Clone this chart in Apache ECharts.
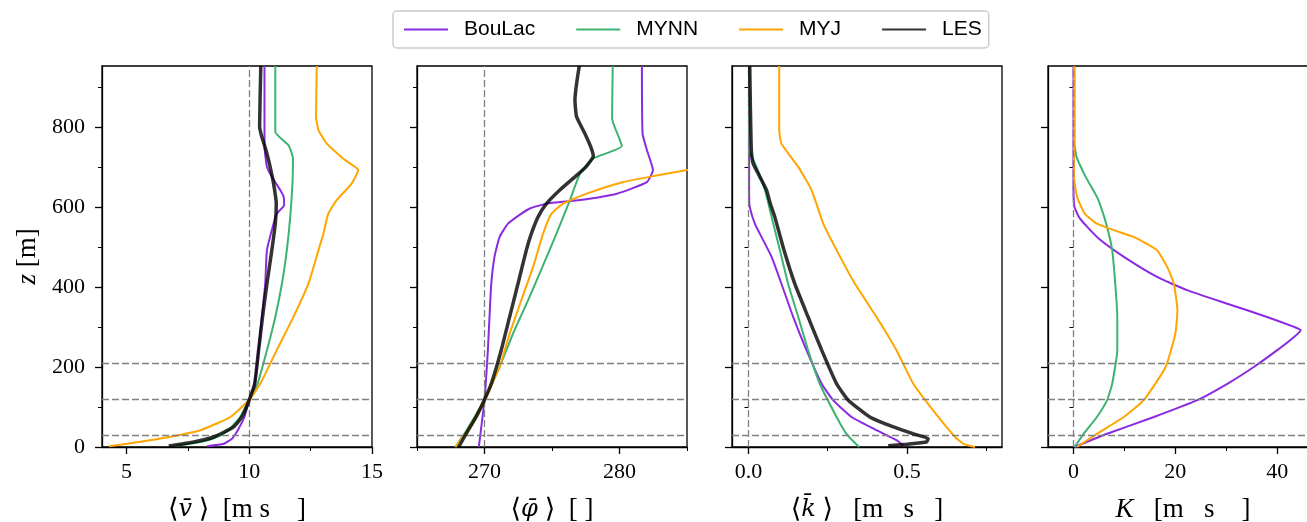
<!DOCTYPE html>
<html><head><meta charset="utf-8">
<script src="https://cdn.jsdelivr.net/npm/echarts@6/dist/echarts.min.js"></script>
<style>html,body{margin:0;padding:0;background:#fff}#c{width:1307px;height:522px}</style>
</head><body><div id="c"></div>
<script>
// ---------- data (value, height z [m]) ----------
const models = ['BouLac', 'MYNN', 'MYJ', 'LES'];

// panel 1: mean wind speed
const velBouLac = [[8.28,2],[8.96,8],[9.30,21],[9.53,42],[9.80,75],[10.0,118],[10.22,158],[10.38,242],[10.51,325],[10.65,408],[10.72,492],[10.99,558],[11.12,583],[11.42,604],[11.40,625],[11.26,642],[10.92,675],[10.72,700],[10.62,750],[10.62,800],[10.62,952]];
const velMYNN = [[6.9,2.5],[8.0,12.5],[8.69,25],[9.16,42],[9.63,75],[10.0,118],[10.34,158],[10.72,242],[11.06,325],[11.33,408],[11.53,492],[11.67,575],[11.76,658],[11.78,721],[11.60,754],[11.06,787],[11.06,952]];
const velMYJ = [[4.28,2],[5.03,8],[6.38,21],[8.01,42],[9.23,75],[10.0,118],[10.45,158],[11.12,242],[11.80,325],[12.41,408],[12.82,492],[13.02,533],[13.22,583],[13.56,617],[14.17,658],[14.44,692],[13.90,717],[13.16,758],[12.82,792],[12.72,825],[12.75,952]];
const velLES = [[6.72,2.5],[7.74,12.5],[8.55,25],[9.36,50],[9.70,75],[10.0,118],[10.22,158],[10.38,242],[10.54,325],[10.72,408],[10.92,492],[11.06,558],[11.10,608],[10.99,658],[10.85,700],[10.68,742],[10.51,775],[10.42,800],[10.47,952]];

// panel 2: wind direction
const dirBouLac = [[269.58,0],[270,118],[270.25,242],[270.37,325],[270.50,408],[270.74,475],[271.12,525],[271.74,558],[272.73,583],[273.35,596],[274.59,608],[277.07,617],[279.80,633],[282.03,662],[282.48,692],[282.03,742],[281.71,783],[281.66,952]];
const dirMYNN = [[267.84,0],[268.51,33],[269.26,75],[270,118],[271.12,200],[272.11,283],[273.23,367],[274.29,450],[275.33,533],[276.33,617],[277.07,683],[278.06,721],[280.17,752],[279.45,821],[279.50,952]];
const dirMYJ = [[267.84,0],[268.59,33],[269.38,75],[270,118],[271.12,200],[271.86,283],[272.73,367],[273.60,450],[274.34,533],[274.96,583],[275.83,608],[277.57,633],[280.30,662],[282.53,677],[285.01,692],[285.6,695]];
const dirLES = [[268.09,0],[268.64,33],[269.38,75],[270,118],[270.50,158],[271.24,242],[271.86,325],[272.48,408],[273.10,492],[273.47,533],[273.97,575],[274.59,608],[275.58,642],[276.70,675],[277.52,700],[278.06,727],[277.87,750],[277.44,783],[276.82,825],[276.70,867],[276.82,908],[277.02,952]];

// panel 3: TKE
const tkeBouLac = [[0.488,4],[0.467,17],[0.404,42],[0.325,75],[0.267,117],[0.231,158],[0.183,242],[0.141,325],[0.104,408],[0.073,475],[0.041,525],[0.02,558],[0.004,600],[0.002,625],[0.002,952]];
const tkeMYNN = [[0.349,0],[0.309,33],[0.278,75],[0.225,158],[0.188,242],[0.157,325],[0.125,408],[0.099,492],[0.073,575],[0.052,642],[0.025,700],[0.004,742],[0.002,952]];
const tkeMYJ = [[0.715,0],[0.678,8],[0.652,25],[0.599,75],[0.520,158],[0.467,242],[0.404,325],[0.336,408],[0.278,492],[0.236,558],[0.199,642],[0.157,700],[0.104,758],[0.097,792],[0.097,952]];
const tkeLES = [[0.441,3],[0.499,7],[0.562,12.5],[0.567,21],[0.520,33],[0.457,50],[0.383,75],[0.315,117],[0.278,158],[0.231,242],[0.188,325],[0.146,408],[0.112,492],[0.083,575],[0.069,608],[0.057,642],[0.036,675],[0.015,708],[0.009,742],[0.006,850],[0.004,952]];

// panel 4: eddy diffusivity
const kBouLac = [[0.2,0],[6.6,33],[15.8,75],[24.3,117],[30.2,158],[35.4,200],[40.0,242],[43.3,275],[44.6,292],[43.3,300],[38.0,325],[30.2,358],[22.3,392],[16.4,425],[9.9,475],[5.3,517],[2.7,550],[1.05,575],[0.2,600],[0,642],[0,952]];
const kMYNN = [[0.2,0],[2.0,33],[4.6,75],[6.6,117],[7.6,158],[8.6,242],[8.6,325],[8.2,408],[7.6,492],[6.6,550],[5.6,592],[4.6,625],[2.4,675],[0.6,725],[0.2,758],[0.2,952]];
const kMYJ = [[0.7,0],[4.6,33],[9.9,75],[13.8,117],[18.1,200],[20.0,283],[20.4,342],[19.7,408],[18.4,450],[16.4,492],[13.8,512],[11.8,525],[7.9,542],[4.6,558],[2.2,583],[0.7,625],[0.1,675],[0.1,952]];

// reference lines
const zRefLines = [30, 120, 210];
const xRefLines = [10, 270, 0, 0];

// ticks
const yMajorTicks = [0, 200, 400, 600, 800];
const yMinorTicks = [100, 300, 500, 700, 900];
const xMajorTicks = [[5, 10, 15], [270, 280], [0, 0.5], [0, 20, 40]];
const xMinorTicks = [[7.5, 12.5], [265, 275, 285], [0.25, 0.75], [10, 30]];
const xRanges = [[4.0, 15], [265, 285], [-0.052, 0.8], [-5, 48]];
const yRange = [0, 952];

// axis titles (superscripts of the original are not rendered there)
const xNames = [
  '⟨{g|v̄} ⟩  [m s    ]',
  '⟨{g|φ̄} ⟩  [ ]',
  '⟨{g|k̄} ⟩   [m   s   ]',
  '{i|K}   [m   s    ]'
];
const yName = '{i|z} [m]';

const panelData = [
  {BouLac: velBouLac, MYNN: velMYNN, MYJ: velMYJ, LES: velLES},
  {BouLac: dirBouLac, MYNN: dirMYNN, MYJ: dirMYJ, LES: dirLES},
  {BouLac: tkeBouLac, MYNN: tkeMYNN, MYJ: tkeMYJ, LES: tkeLES},
  {BouLac: kBouLac, MYNN: kMYNN, MYJ: kMYJ}
];

// ---------- styling ----------
const colors = {BouLac: '#8a2be2', MYNN: '#3cb371', MYJ: '#ffa500', LES: 'rgba(0,0,0,0.8)'};
const widths = {BouLac: 2, MYNN: 2, MYJ: 2, LES: 3.5};
const serif = "'Liberation Serif', 'DejaVu Serif', serif";
const panelLefts = [102, 417, 732, 1048];
const gTop = 66, gW = 270, gH = 381;
const xFormat = [v => String(v), v => String(v), v => v.toFixed(1), v => String(v)];
const richName = {
  i: {fontFamily: serif, fontSize: 27, fontStyle: 'italic', color: '#000'},
  g: {fontFamily: "'DejaVu Serif', serif", fontSize: 24, fontStyle: 'italic', color: '#000'}
};

const grids = [], xAxes = [], yAxes = [], series = [];
for (let p = 0; p < 4; p++) {
  grids.push({left: panelLefts[p], top: gTop, width: gW, height: gH, show: true,
    outerBoundsMode: 'none', containLabel: false,
    borderColor: '#000', borderWidth: 1.3, backgroundColor: 'transparent'});
  xAxes.push({type: 'value', gridIndex: p, min: xRanges[p][0], max: xRanges[p][1], position: 'bottom',
    axisLine: {show: true, onZero: false, lineStyle: {color: '#000', width: 1.3}},
    splitLine: {show: false},
    axisTick: {show: true, inside: false, length: 7, customValues: xMajorTicks[p], lineStyle: {color: '#000', width: 1.3}},
    axisLabel: {show: true, customValues: xMajorTicks[p], margin: 14, fontFamily: serif, fontSize: 22, color: '#000', formatter: xFormat[p]},
    name: xNames[p], nameLocation: 'middle', nameGap: 49,
    nameTextStyle: {fontFamily: serif, fontSize: 27, color: '#000', rich: richName}
  });
  xAxes.push({type: 'value', gridIndex: p, min: xRanges[p][0], max: xRanges[p][1], position: 'bottom',
    axisLine: {show: false}, splitLine: {show: false}, axisLabel: {show: false},
    axisTick: {show: true, inside: false, length: 4, customValues: xMinorTicks[p], lineStyle: {color: '#000', width: 1}}
  });
  yAxes.push({type: 'value', gridIndex: p, min: yRange[0], max: yRange[1], position: 'left',
    axisLine: {show: true, onZero: false, lineStyle: {color: '#000', width: 1.3}},
    splitLine: {show: false},
    axisTick: {show: true, inside: false, length: 7, customValues: yMajorTicks, lineStyle: {color: '#000', width: 1.3}},
    axisLabel: {show: p === 0, customValues: yMajorTicks, margin: 17, fontFamily: serif, fontSize: 22, color: '#000'},
    name: p === 0 ? yName : '', nameLocation: 'middle', nameRotate: 90, nameGap: 61,
    nameTextStyle: {fontFamily: serif, fontSize: 27, color: '#000', rich: richName}
  });
  yAxes.push({type: 'value', gridIndex: p, min: yRange[0], max: yRange[1], position: 'left',
    axisLine: {show: false}, splitLine: {show: false}, axisLabel: {show: false},
    axisTick: {show: true, inside: false, length: 4, customValues: yMinorTicks, lineStyle: {color: '#000', width: 1}}
  });

  models.forEach((m, mi) => {
    const d = panelData[p][m];
    if (!d) return;
    const s = {
      type: 'line', name: m, xAxisIndex: 2 * p, yAxisIndex: 2 * p, data: d,
      symbol: 'none', showSymbol: false, smooth: 0.15, clip: true,
      lineStyle: {color: colors[m], width: widths[m]}, itemStyle: {color: colors[m]},
      z: 2 + mi, emphasis: {disabled: true}
    };
    if (mi === 0) {
      s.markLine = {silent: true, symbol: ['none', 'none'], label: {show: false}, emphasis: {disabled: true},
        lineStyle: {color: '#808080', type: [7, 3], width: 1.3},
        data: zRefLines.map(z => ({yAxis: z})).concat([{xAxis: xRefLines[p]}])};
    }
    series.push(s);
  });
}

const chart = echarts.init(document.getElementById('c'), null, {renderer: 'canvas'});
chart.setOption({
  animation: false,
  backgroundColor: '#fff',
  legend: {
    left: 393, top: 11, orient: 'horizontal', padding: [8, 7, 8, 10],
    itemWidth: 44, itemHeight: 2, itemGap: 40,
    itemStyle: {opacity: 0},
    borderColor: '#cccccc', borderWidth: 1.5, borderRadius: 4, backgroundColor: '#fff',
    textStyle: {fontFamily: "'Liberation Sans', 'DejaVu Sans', sans-serif", fontSize: 21, color: '#000', padding: [0, 0, 0, 11]},
    data: [
      {name: 'BouLac', textStyle: {width: 71}},
      {name: 'MYNN', textStyle: {width: 66}},
      {name: 'MYJ', textStyle: {width: 46}},
      {name: 'LES', textStyle: {width: 37}}
    ]
  },
  grid: grids, xAxis: xAxes, yAxis: yAxes, series: series
});
</script></body></html>
